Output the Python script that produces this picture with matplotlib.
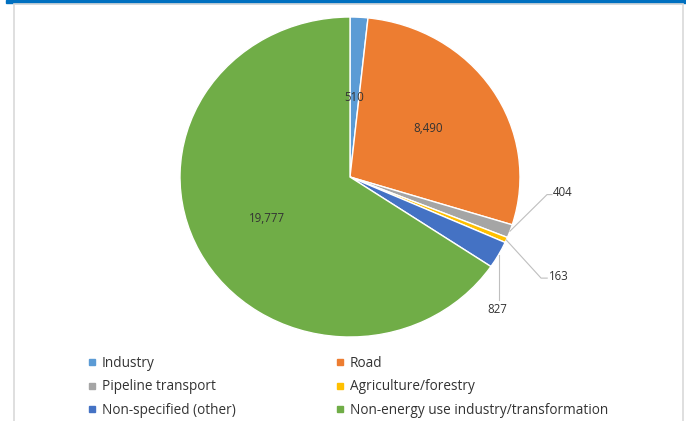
import numpy as np
import matplotlib.pyplot as plt
from matplotlib.lines import Line2D
from matplotlib.patches import Rectangle

categories = ['Industry', 'Road', 'Pipeline transport', 'Agriculture/forestry',
              'Non-specified (other)', 'Non-energy use industry/transformation']
values = [510, 8490, 404, 163, 827, 19777]
colors = ['#5B9BD5', '#ED7D31', '#A5A5A5', '#FFC000', '#4472C4', '#70AD47']

W, H = 686, 421
plt.rcParams['font.family'] = ['Open Sans', 'DejaVu Sans']
fig = plt.figure(figsize=(W / 100, H / 100), dpi=100)

# blue band on top and light frame around the chart area
fig.patches.append(Rectangle((6 / W, 1 - 3 / H), 1, 3 / H, transform=fig.transFigure,
                             color='#0070C0', zorder=0))
fig.patches.append(Rectangle((14 / W, -0.02), (683 - 14) / W, (H - 4) / H + 0.02,
                             transform=fig.transFigure, fill=False,
                             edgecolor='#D9D9D9', lw=1.2, zorder=0))

ax = fig.add_axes([180 / W, (H - 337) / H, 340 / W, 320 / H])
wedges, _ = ax.pie(values, colors=colors, startangle=90, counterclock=False,
                   wedgeprops=dict(edgecolor='white', linewidth=1))
ax.set_aspect('auto')
ax.set_xlim(-1, 1)
ax.set_ylim(-1, 1)


def mid_dir(w):
    a = np.deg2rad((w.theta1 + w.theta2) / 2)
    return np.cos(a), np.sin(a)


label_kw = dict(fontsize=8.3, color='#333333')

# labels inside the larger slices
for i, r in [(0, 0.5), (1, 0.55), (5, 0.55)]:
    cx, cy = mid_dir(wedges[i])
    ax.text(r * cx, r * cy, f'{values[i]:,}', ha='center', va='center', **label_kw)

# small slices get leader lines
line_kw = dict(color='#BFBFBF', lw=0.8, clip_on=False)
cx, cy = mid_dir(wedges[2])
ax.plot([cx, 1.159, 1.188], [cy, -0.11, -0.11], **line_kw)
ax.text(1.195, -0.10, f'{values[2]:,}', ha='left', va='center', **label_kw)

cx, cy = mid_dir(wedges[3])
ax.plot([cx, 1.124, 1.16], [cy, -0.632, -0.632], **line_kw)
ax.text(1.17, -0.625, f'{values[3]:,}', ha='left', va='center', **label_kw)

cx, cy = mid_dir(wedges[4])
ax.plot([cx, cx], [cy, -0.77], **line_kw)
ax.text(0.865, -0.83, f'{values[4]:,}', ha='center', va='center', **label_kw)

# legend, row-major order in two columns
order = [0, 2, 4, 1, 3, 5]
handles = [Line2D([], [], ls='none', marker='s', markersize=5, color=colors[i]) for i in order]
fig.legend(handles, [categories[i] for i in order], ncol=2, loc='upper left',
           bbox_to_anchor=(88 / W, 1 - 356 / H), frameon=False, fontsize=9.8,
           handlelength=0.6, handletextpad=0.4, columnspacing=7.4,
           labelspacing=0.62, borderpad=0, borderaxespad=0, labelcolor='#333333')

fig.savefig('out.png', dpi=100)
